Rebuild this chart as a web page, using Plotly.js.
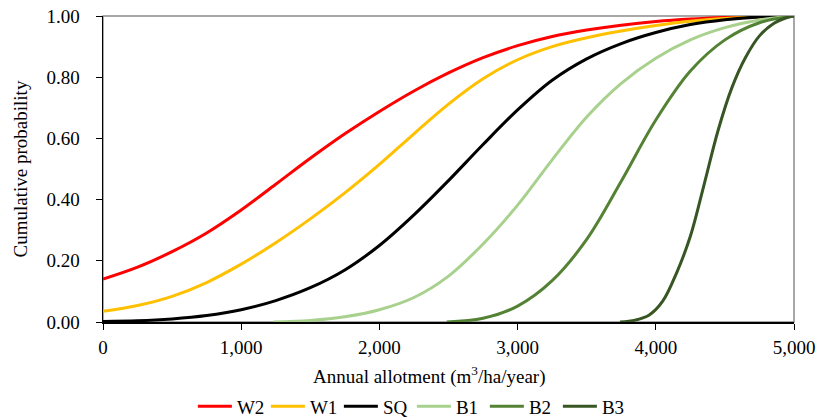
<!DOCTYPE html>
<html>
<head>
<meta charset="utf-8">
<script src="https://cdn.plot.ly/plotly-3.0.1.min.js"></script>
<style>html,body{margin:0;padding:0;background:#fff;}#chart{width:818px;height:418px;}</style>
</head>
<body>
<div id="chart"></div>
<script>
// Series names and colours
const seriesNames = ["W2", "W1", "SQ", "B1", "B2", "B3"];
const seriesColors = ["#FF0000", "#FFC000", "#000000", "#A9D18E", "#548235", "#375623"];

// Annual allotment (m3/ha/year) and cumulative probability per series
const xW2 = [0, 250, 500, 750, 1000, 1250, 1500, 1750, 2000, 2250, 2500, 2750, 3000, 3250, 3500, 3750, 4000, 4250, 4500, 4750, 5000];
const yW2 = [0.140, 0.179, 0.230, 0.291, 0.366, 0.450, 0.535, 0.615, 0.688, 0.755, 0.814, 0.864, 0.903, 0.933, 0.954, 0.970, 0.982, 0.990, 0.995, 0.998, 1.000];

const xW1 = [0, 250, 500, 750, 1000, 1250, 1500, 1750, 2000, 2250, 2500, 2750, 3000, 3250, 3500, 3750, 4000, 4250, 4500, 4750, 5000];
const yW1 = [0.035, 0.054, 0.084, 0.129, 0.189, 0.259, 0.337, 0.422, 0.515, 0.615, 0.712, 0.795, 0.857, 0.900, 0.929, 0.951, 0.969, 0.983, 0.992, 0.997, 1.000];

const xSQ = [0, 250, 500, 750, 1000, 1250, 1500, 1750, 2000, 2250, 2500, 2750, 3000, 3250, 3500, 3750, 4000, 4250, 4500, 4750, 5000];
const ySQ = [0.002, 0.004, 0.010, 0.021, 0.040, 0.070, 0.112, 0.170, 0.250, 0.350, 0.462, 0.580, 0.693, 0.790, 0.860, 0.910, 0.946, 0.972, 0.988, 0.997, 1.000];

const xB1 = [1234, 1500, 1750, 2000, 2250, 2500, 2750, 3000, 3250, 3500, 3750, 4000, 4250, 4500, 4750, 5000];
const yB1 = [0.000, 0.005, 0.017, 0.040, 0.080, 0.150, 0.255, 0.382, 0.530, 0.670, 0.780, 0.862, 0.922, 0.962, 0.987, 1.000];

const xB2 = [2487, 2750, 3000, 3250, 3500, 3750, 4000, 4250, 4500, 4750, 5000];
const yB2 = [0.000, 0.012, 0.052, 0.135, 0.270, 0.460, 0.660, 0.820, 0.922, 0.978, 1.000];

const xB3 = [3741, 3850, 3950, 4050, 4150, 4250, 4350, 4450, 4550, 4650, 4750, 4850, 4950, 5000];
const yB3 = [0.000, 0.006, 0.022, 0.068, 0.160, 0.280, 0.450, 0.625, 0.765, 0.865, 0.935, 0.975, 0.995, 1.000];

const xAll = [xW2, xW1, xSQ, xB1, xB2, xB3];
const yAll = [yW2, yW1, ySQ, yB1, yB2, yB3];

const yTicks = [0, 0.2, 0.4, 0.6, 0.8, 1.0];
const xTicks = [0, 1000, 2000, 3000, 4000, 5000];
const xTitle = "Annual allotment (m<sup>3</sup>/ha/year)";
const yTitle = "Cumulative probability";

const FONT = "'Liberation Serif', 'Times New Roman', serif";
const FS = 19;

const traces = seriesNames.map((name, i) => ({
  type: "scatter",
  mode: "lines",
  name: name,
  x: xAll[i],
  y: yAll[i],
  line: {color: seriesColors[i], width: 3, shape: "spline", smoothing: 1},
  cliponaxis: false,
  hoverinfo: "skip"
}));

const layout = {
  width: 818,
  height: 418,
  margin: {l: 103, r: 24, t: 16, b: 96, autoexpand: false},
  paper_bgcolor: "#ffffff",
  plot_bgcolor: "#ffffff",
  font: {family: FONT, size: FS, color: "#000000"},
  showlegend: true,
  legend: {
    orientation: "h",
    x: 0.447, xanchor: "center",
    y: -0.276, yanchor: "middle",
    font: {family: FONT, size: FS, color: "#000"},
    itemwidth: 34,
    entrywidth: 24,
    entrywidthmode: "pixels",
    tracegroupgap: 0
  },
  xaxis: {
    range: [0, 5000],
    tickvals: xTicks,
    tickformat: ",d",
    ticks: "outside",
    ticklen: 6,
    tickcolor: "#000",
    ticklabelstandoff: 2,
    showgrid: false,
    zeroline: false,
    showline: true,
    linecolor: "#000",
    linewidth: 1.5,
    tickfont: {family: FONT, size: FS},
    automargin: false
  },
  yaxis: {
    range: [0, 1],
    tickvals: yTicks,
    tickformat: ".2f",
    ticks: "outside",
    ticklen: 6,
    tickcolor: "#000",
    ticklabelstandoff: 12,
    showgrid: false,
    zeroline: false,
    showline: true,
    linecolor: "#000",
    linewidth: 1.5,
    tickfont: {family: FONT, size: FS},
    title: {text: yTitle, font: {family: FONT, size: FS}, standoff: 14},
    automargin: false
  },
  annotations: [{
    text: xTitle, xref: "paper", yref: "paper",
    x: 0.472, y: -0.175, xanchor: "center", yanchor: "middle",
    showarrow: false, font: {family: FONT, size: FS, color: "#000"}
  }],
  shapes: [{
    type: "rect", xref: "paper", yref: "paper", x0: 0, x1: 1, y0: 0, y1: 1,
    line: {color: "#8c8c8c", width: 1.5}, layer: "below"
  }]
};

Plotly.newPlot("chart", traces, layout, {displayModeBar: false, staticPlot: true});
</script>
</body>
</html>
